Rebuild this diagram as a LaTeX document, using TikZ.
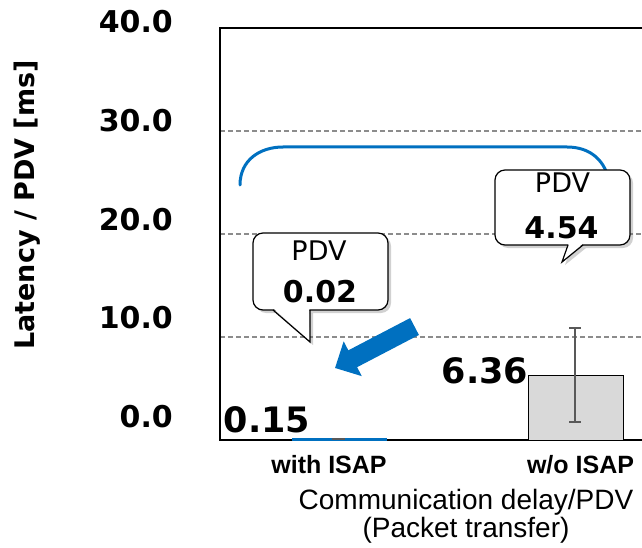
\documentclass[tikz,border=0pt]{standalone}
\usepackage{fontspec}
\usetikzlibrary{arrows.meta, positioning, shadows}
\newfontfamily\dejavu{DejaVu Sans}
\newfontfamily\arialfont{Liberation Sans}
\definecolor{isapblue}{HTML}{0070C0}
\definecolor{barfill}{HTML}{D9D9D9}
\definecolor{errgray}{HTML}{595959}
\definecolor{gridgray}{HTML}{8C8C8C}
\tikzset{
  ticklab/.style={font=\dejavu\bfseries\fontsize{30}{36}\selectfont, anchor=east, inner sep=0pt},
  vallab/.style={font=\dejavu\bfseries\fontsize{35}{42}\selectfont, inner sep=0pt},
  catlab/.style={font=\arialfont\bfseries\fontsize{25}{30}\selectfont, anchor=base, inner sep=0pt},
  axtitle/.style={font=\arialfont\fontsize{28}{34}\selectfont, anchor=base, inner sep=0pt},
  pdvtxt/.style={font=\dejavu\fontsize{27}{32}\selectfont, anchor=base, inner sep=0pt},
  pdvval/.style={font=\dejavu\bfseries\fontsize{30}{36}\selectfont, anchor=base, inner sep=0pt},
  callbox/.style={draw, line width=1.2pt, fill=white, rounded corners=10pt, inner sep=0pt,
    drop shadow={shadow xshift=3pt, shadow yshift=-3pt, opacity=0.3, fill=black!60}},
  gridline/.style={gridgray, line width=1.5pt, dash pattern=on 5pt off 3pt},
  errbar/.style={errgray, line width=1.5pt}
}

\begin{document}
\begin{tikzpicture}[x=1pt, y=-1pt]
  \useasboundingbox (0,0) rectangle (642,548);
  % grid and frame
  \foreach \gy in {131,234,337}
    \draw[gridline] (220,\gy) -- (642,\gy);
  \draw[black, line width=1.5pt] (642,28) -- (220,28) -- (220,440) -- (642,440);
  % tick labels
  \foreach \gy/\gv in {22/40.0, 121/30.0, 220/20.0, 318/10.0, 417/0.0}
    \node[ticklab] (tick\gy) at (173,\gy) {\gv};
  \node[font=\dejavu\bfseries\fontsize{27}{32}\selectfont, rotate=90, inner sep=0pt] (ytitle) at (27,205) {Latency / PDV [ms]};
  % bars
  \fill[isapblue] (292,441) rectangle (387,438);
  \draw[errbar] (332,439) -- (345,439);
  \draw[black, line width=1pt, fill=barfill] (528,440) rectangle (623,375.5);
  \draw[errbar] (575,328) -- (575,422);
  \draw[errbar] (569,328) -- (581,328);
  \draw[errbar] (569,422) -- (581,422);
  \node[vallab] (withval) at (267,420) {0.15};
  \node[vallab] (woval) at (485,371) {6.36};
  % axis labels
  \node[catlab] (withcat) at (329,473) {with ISAP};
  \node[catlab] (wocat) at (580.5,473) {w/o ISAP};
  \node[axtitle] (xtitle) at (466,509) {Communication delay/PDV};
  \node[axtitle] (xsub) at (466,537) {(Packet transfer)};
  % blue bracket
  \draw[isapblue, line width=3pt, line cap=round] (240,185) .. controls (240,160) and (260,147) .. (283,147)
    -- (567,147) .. controls (590,147) and (606,160) .. (610,185);
  % callout for w/o ISAP
  \node[callbox, minimum width=135pt, minimum height=75pt] (pdvB) at (562.5,207.5) {};
  \fill[black!60, opacity=0.3] (571,248) -- (565,265) -- (586,248) -- cycle;
  \fill[white] (568.6,244) -- (562,262) -- (582.4,244) -- cycle;
  \draw[line width=1.2pt, line join=miter] (568,245) -- (562,262) -- (583,245);
  \node[pdvtxt] (pdvBtxt) at (562.5,193) {PDV};
  \node[pdvval] (pdvBval) at (561.5,238) {4.54};
  % callout for with ISAP
  \node[callbox, minimum width=135pt, minimum height=77pt] (pdvA) at (320.5,271.5) {};
  \fill[black!60, opacity=0.3] (276,313) -- (313,345) -- (313,313) -- cycle;
  \fill[white] (274,309) -- (310,341) -- (309.4,309) -- cycle;
  \draw[line width=1.2pt, line join=miter] (273,310) -- (310,342) -- (310,310);
  \node[pdvtxt] (pdvAtxt) at (319,260) {PDV};
  \node[pdvval] (pdvAval) at (320,302) {0.02};
  % block arrow
  \draw[isapblue, line width=19pt, -{Triangle[width=38pt, length=20pt]}] (414.5,326.5) -- (335,368);
\end{tikzpicture}
\end{document}
